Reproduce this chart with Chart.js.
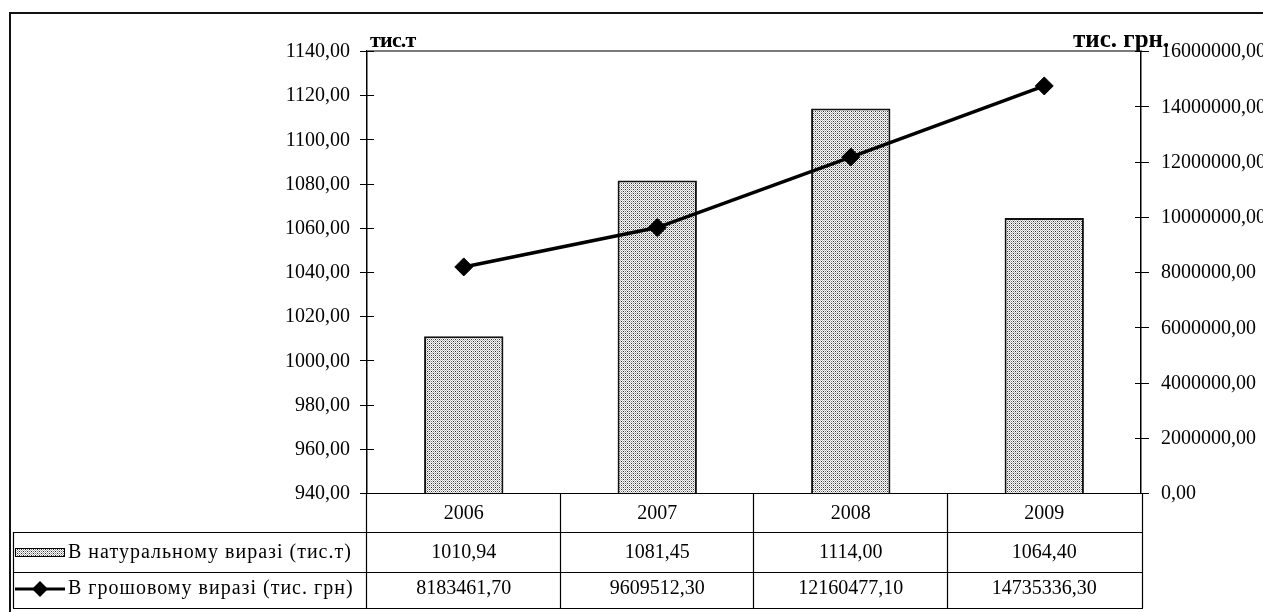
<!DOCTYPE html>
<html>
<head>
<meta charset="utf-8">
<script src="https://cdn.jsdelivr.net/npm/chart.js@4/dist/chart.umd.min.js"></script>
<style>
  html, body { margin: 0; padding: 0; background: #fff; overflow: hidden; }
  #wrap { position: relative; width: 1300px; height: 612px; }
</style>
</head>
<body>
<div id="wrap"><canvas id="c" width="1300" height="612"></canvas></div>
<script>
// Years shown on the category axis and in the data table header
const years = ['2006', '2007', '2008', '2009'];
// Volume in physical terms, thousand tonnes (bars, left axis)
const volumeTons = [1010.94, 1081.45, 1114.00, 1064.40];
// Volume in money terms, thousand UAH (line, right axis)
const valueUah = [8183461.70, 9609512.30, 12160477.10, 14735336.30];

const volumeLabel = 'В натуральному виразі (тис.т)';
const valueLabel = 'В грошовому виразі (тис. грн)';
const leftTitle = 'тис.т';
const rightTitle = 'тис. грн.';

const SERIF = '"Liberation Serif", "Times New Roman", serif';
const fmt = v => Number(v).toFixed(2).replace('.', ',');

// Dotted grey fill used for the bars and their legend key
function dotPattern() {
  const p = document.createElement('canvas');
  p.width = 4; p.height = 4;
  const g = p.getContext('2d');
  g.fillStyle = '#ffffff'; g.fillRect(0, 0, 4, 4);
  g.fillStyle = '#bbbbbb';
  g.fillRect(0, 0, 1, 1); g.fillRect(2, 2, 1, 1); g.fillRect(0, 2, 1, 1); g.fillRect(2, 0, 1, 1);
  g.fillStyle = '#2e2e2e'; g.fillRect(1, 1, 1, 1); g.fillRect(3, 3, 1, 1);
  g.fillStyle = '#808080'; g.fillRect(3, 1, 1, 1); g.fillRect(1, 3, 1, 1);
  return document.getElementById('c').getContext('2d').createPattern(p, 'repeat');
}
const barFill = dotPattern();

// Row heights of the data table drawn under the plot
const TABLE_ROWS = [39, 40, 36];
const TABLE_LEFT = 13;

const decorations = {
  id: 'decorations',
  afterDraw(chart) {
    const ctx = chart.ctx;
    const a = chart.chartArea;
    const yL = chart.scales.yL, yR = chart.scales.yR, x = chart.scales.x;
    ctx.save();

    // outer frame
    ctx.strokeStyle = '#111';
    ctx.lineWidth = 2;
    ctx.beginPath();
    ctx.moveTo(10, 640); ctx.lineTo(10, 13); ctx.lineTo(1300, 13);
    ctx.stroke();

    // plot area top edge
    ctx.strokeStyle = '#7a7a7a';
    ctx.lineWidth = 2;
    ctx.beginPath();
    ctx.moveTo(a.left, a.top); ctx.lineTo(a.right, a.top);
    ctx.stroke();

    // crossing tick marks on both value axes
    ctx.strokeStyle = '#000';
    ctx.lineWidth = 1.2;
    ctx.beginPath();
    yL.ticks.forEach(t => {
      const y = Math.round(yL.getPixelForValue(t.value)) + 0.5;
      ctx.moveTo(a.left - 7, y); ctx.lineTo(a.left + 7, y);
    });
    yR.ticks.forEach(t => {
      const y = Math.round(yR.getPixelForValue(t.value)) + 0.5;
      ctx.moveTo(a.right - 6, y); ctx.lineTo(a.right + 8, y);
    });
    ctx.stroke();

    // axis titles
    ctx.fillStyle = '#000';
    ctx.textAlign = 'left';
    ctx.textBaseline = 'alphabetic';
    ctx.font = 'bold 22px ' + SERIF;
    ctx.letterSpacing = '-0.8px';
    ctx.fillText(leftTitle, a.left + 3, 47);
    ctx.font = 'bold 25px ' + SERIF;
    ctx.letterSpacing = '0px';
    ctx.fillText(rightTitle, a.right - 68, 47);

    // data table
    const t0 = a.bottom;
    const t1 = t0 + TABLE_ROWS[0];
    const t2 = t1 + TABLE_ROWS[1];
    const t3 = t2 + TABLE_ROWS[2];
    const step = (a.right - a.left) / years.length;
    ctx.strokeStyle = '#000';
    ctx.lineWidth = 1.2;
    ctx.beginPath();
    ctx.moveTo(a.left, t0 + 0.5); ctx.lineTo(a.right + 8, t0 + 0.5);
    [t1, t2, t3].forEach(y => { ctx.moveTo(TABLE_LEFT, y + 0.5); ctx.lineTo(a.right + 2, y + 0.5); });
    ctx.moveTo(TABLE_LEFT + 0.5, t1); ctx.lineTo(TABLE_LEFT + 0.5, t3);
    for (let i = 0; i <= years.length; i++) {
      const xx = Math.round(a.left + i * step) + (i === years.length ? 1.5 : -0.5);
      ctx.moveTo(xx, t0); ctx.lineTo(xx, t3);
    }
    ctx.stroke();

    ctx.font = '20px ' + SERIF;
    ctx.textAlign = 'center';
    ctx.textBaseline = 'middle';
    years.forEach((yr, i) => {
      const cx = x.getPixelForValue(i);
      ctx.fillText(yr, cx, (t0 + t1) / 2 + 1);
      ctx.fillText(fmt(volumeTons[i]), cx, (t1 + t2) / 2 + 1);
      ctx.fillText(fmt(valueUah[i]), cx, (t2 + t3) / 2 - 1);
    });

    // legend keys and labels in the first column
    ctx.textAlign = 'left';
    const r1 = (t1 + t2) / 2, r2 = (t2 + t3) / 2;
    ctx.fillStyle = barFill;
    ctx.fillRect(15, r1 - 4, 50, 9);
    ctx.strokeStyle = '#000';
    ctx.lineWidth = 1;
    ctx.strokeRect(15.5, r1 - 3.5, 49, 8);
    ctx.lineWidth = 3;
    ctx.beginPath();
    ctx.moveTo(15, r2 - 1); ctx.lineTo(65, r2 - 1);
    ctx.stroke();
    ctx.fillStyle = '#000';
    ctx.beginPath();
    ctx.moveTo(40, r2 - 9); ctx.lineTo(48, r2 - 1); ctx.lineTo(40, r2 + 7); ctx.lineTo(32, r2 - 1);
    ctx.closePath(); ctx.fill();
    ctx.letterSpacing = '1px';
    ctx.fillText(volumeLabel, 68, r1 + 1);
    ctx.fillText(valueLabel, 68, r2 - 1);
    ctx.letterSpacing = '0px';

    ctx.restore();
  }
};

const tickFont = { family: SERIF, size: 20 };

new Chart(document.getElementById('c'), {
  data: {
    labels: years,
    datasets: [
      {
        type: 'line',
        label: valueLabel,
        data: valueUah,
        yAxisID: 'yR',
        borderColor: '#000',
        borderWidth: 3.5,
        tension: 0,
        pointStyle: 'rectRot',
        pointRadius: 9,
        pointBackgroundColor: '#000',
        pointBorderColor: '#000',
        pointBorderWidth: 1
      },
      {
        type: 'bar',
        label: volumeLabel,
        data: volumeTons,
        yAxisID: 'yL',
        backgroundColor: barFill,
        borderColor: '#111',
        borderWidth: 2,
        categoryPercentage: 1,
        barPercentage: 0.41
      }
    ]
  },
  options: {
    responsive: false,
    animation: false,
    layout: { padding: { top: 51, bottom: 119, left: 0, right: 0 } },
    plugins: { legend: { display: false }, tooltip: { enabled: false } },
    scales: {
      x: { type: 'category', display: false, offset: true },
      yL: {
        position: 'left',
        min: 940, max: 1140,
        ticks: { stepSize: 20, callback: v => fmt(v), color: '#000', font: tickFont, padding: 17, labelOffset: 1 },
        grid: { drawOnChartArea: false, drawTicks: false },
        border: { color: '#000', width: 1.5 },
        afterFit(s) { s.width = 367; }
      },
      yR: {
        position: 'right',
        min: 0, max: 16000000,
        ticks: { stepSize: 2000000, callback: v => fmt(v), color: '#000', font: tickFont, padding: 20, labelOffset: 1 },
        grid: { drawOnChartArea: false, drawTicks: false },
        border: { color: '#000', width: 1.5 },
        afterFit(s) { s.width = 159; }
      }
    }
  },
  plugins: [decorations]
});
</script>
</body>
</html>
